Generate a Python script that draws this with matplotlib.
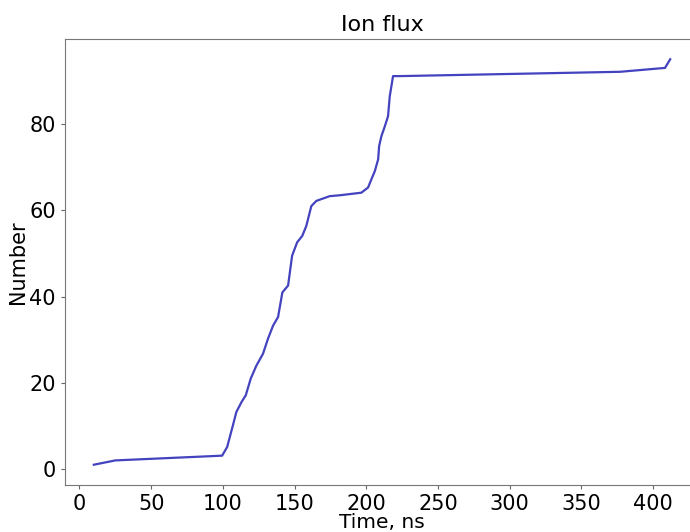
import matplotlib
matplotlib.use("Agg")
import matplotlib.pyplot as plt

time_ns = [10, 25, 99.5, 103, 107, 109.4, 113, 116, 119.4, 123.3, 128, 131.5, 135, 138.5,
           141.5, 145.5, 148.3, 151.8, 155.4, 158.2, 161.7, 165.2, 174.5, 181.5, 196.6,
           201.3, 203.6, 206, 208.3, 209, 210.6, 213, 215.2, 216.4, 218.7, 223.4, 377,
           408.4, 412]
number = [1.1, 2.1, 3.2, 5.2, 10.2, 13.3, 15.6, 17.2, 21, 24, 26.8, 30.3, 33.3, 35.3,
          41, 42.6, 49.5, 52.6, 54.1, 56.4, 61, 62.2, 63.3, 63.5, 64.1,
          65.3, 67.2, 69.1, 71.8, 74.9, 77.2, 79.5, 81.8, 86.4, 91.1, 91.1, 92.1,
          93, 95]

fig = plt.figure(figsize=(6.9, 5.32), dpi=100)
ax = fig.add_axes([65/690, 47/532, (699-65)/690, (485-39)/532])
ax.plot(time_ns, number, color="#4343bf", lw=1.6)
ax.set_title("Ion flux", fontsize=16)
ax.set_xlabel("Time, ns", fontsize=14.5, labelpad=-1)
ax.set_ylabel("Number", fontsize=15, labelpad=1)
ax.tick_params(labelsize=15, length=3, color="#666666")
ax.set_xticks([0, 50, 100, 150, 200, 250, 300, 350, 400])
ax.set_yticks([0, 20, 40, 60, 80])
for s in ax.spines.values():
    s.set_color("#777777")
fig.savefig("out.png", dpi=100)
